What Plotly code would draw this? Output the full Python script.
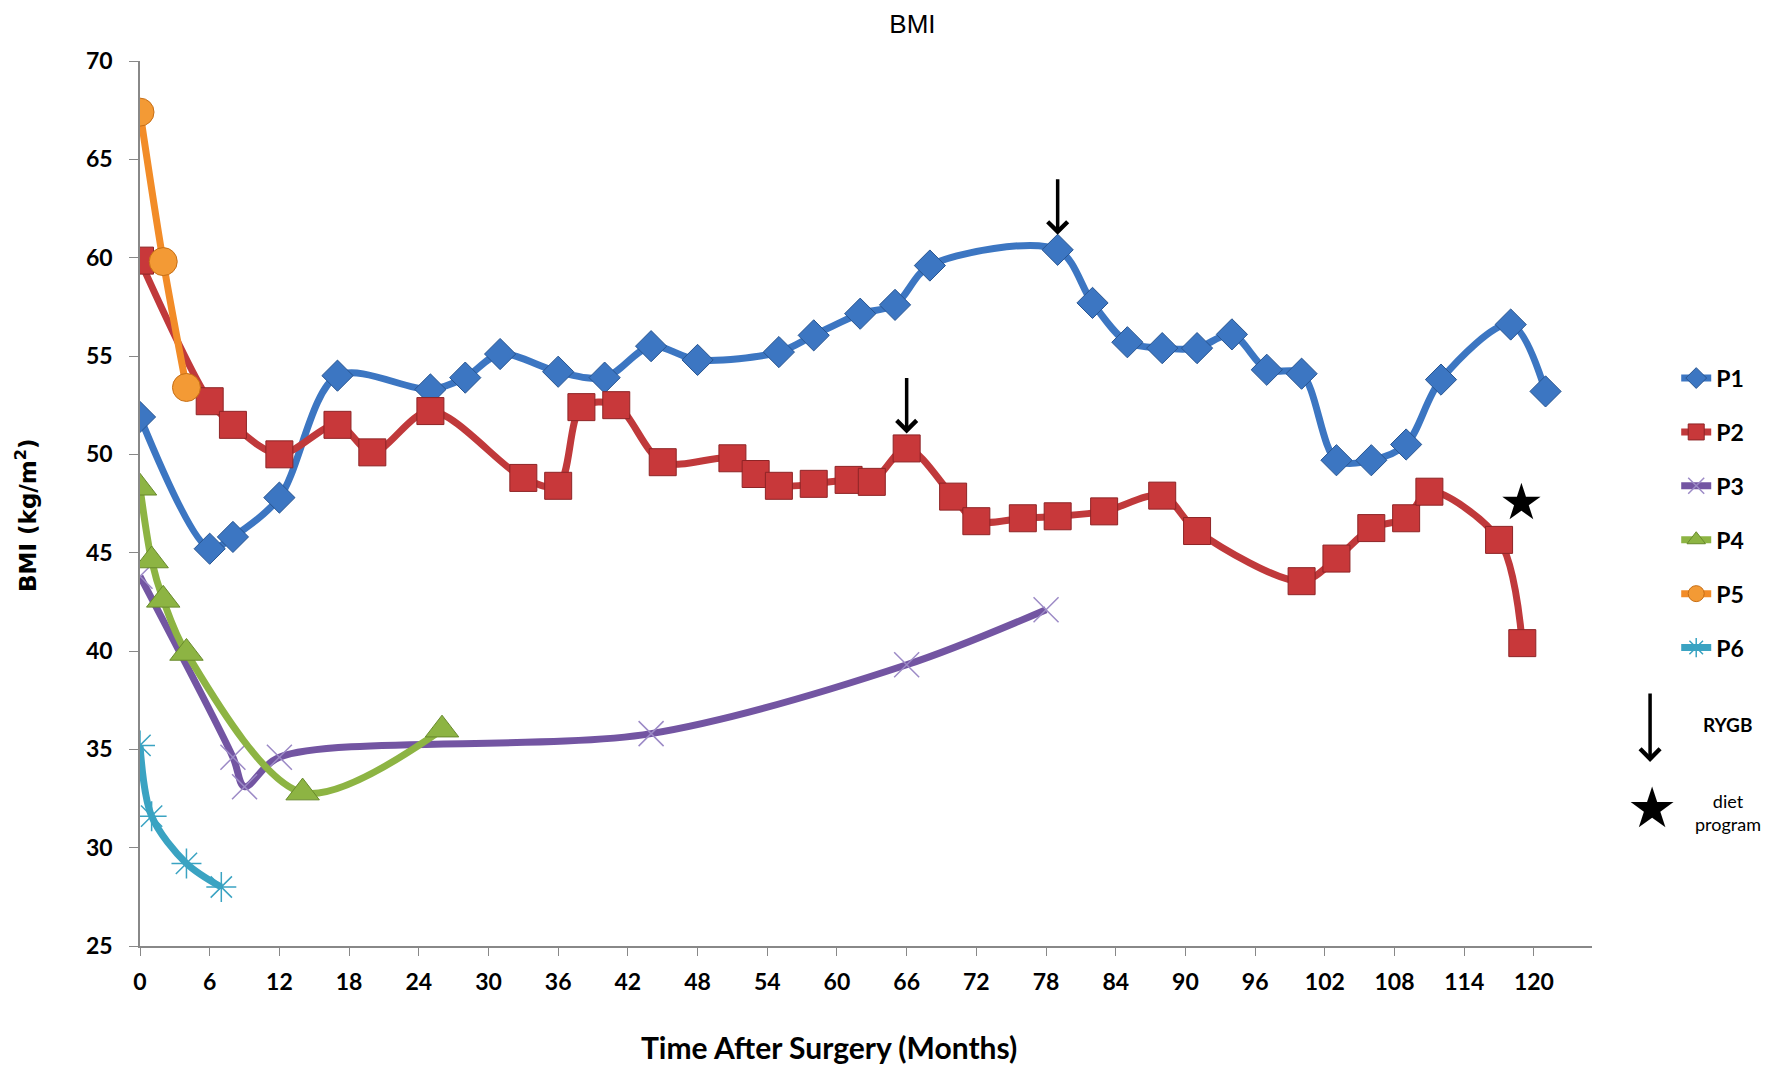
import plotly.graph_objects as go

# BMI over time after surgery
p1_months = [0, 6, 8, 12, 17, 25, 28, 31, 36, 40, 44, 48, 55, 58, 62, 65, 68, 79,
             82, 85, 88, 91, 94, 97, 100, 103, 106, 109, 112, 118, 121]
p1_bmi = [51.9, 45.2, 45.8, 47.8, 54.0, 53.3, 53.9, 55.1, 54.2, 53.9, 55.5, 54.8, 55.2,
          56.05, 57.15, 57.6, 59.6, 60.4, 57.7, 55.7, 55.4, 55.4, 56.1, 54.3, 54.1,
          49.7, 49.7, 50.5, 53.8, 56.6, 53.2]

p2_months = [0, 6, 8, 12, 17, 20, 25, 33, 36, 38, 41, 45, 51, 53, 55, 58, 61, 63, 66,
             70, 72, 76, 79, 83, 88, 91, 100, 103, 106, 109, 111, 117, 119]
p2_bmi = [59.85, 52.7, 51.5, 50.0, 51.5, 50.1, 52.2, 48.8, 48.4, 52.4, 52.5, 49.6, 49.8,
          49.0, 48.4, 48.5, 48.7, 48.6, 50.3, 47.85, 46.6, 46.75, 46.85, 47.1, 47.9,
          46.1, 43.55, 44.7, 46.25, 46.75, 48.1, 45.65, 40.4]

p3_months = [0, 8, 9, 12, 44, 66, 78]
p3_bmi = [43.8, 34.6, 33.1, 34.6, 35.8, 39.3, 42.1]

p4_months = [0, 1, 2, 4, 14, 26]
p4_bmi = [48.3, 44.6, 42.6, 39.9, 32.8, 36.0]

p5_months = [0, 2, 4]
p5_bmi = [67.4, 59.8, 53.4]

p6_months = [0, 1, 4, 7]
p6_bmi = [35.2, 31.6, 29.2, 28.0]

x_ticks = list(range(0, 121, 6))
y_ticks = list(range(25, 71, 5))

# events: RYGB on P1 at 79 months and P2 at 66 months, diet program on P2 at 117
rygb_p1_month = 79
rygb_p2_month = 66
diet_p2_month = 117

TICK_FONT = dict(family="Lato", size=23, color="black", weight="bold")

fig = go.Figure()

series = [
    ("P1", p1_months, p1_bmi, "#3C76C2", dict(symbol="diamond", size=24, color="#3C76C2",
                                               line=dict(color="#285591", width=1))),
    ("P2", p2_months, p2_bmi, "#C0393B", dict(symbol="square", size=27, color="#C8383A",
                                               line=dict(color="#8E2426", width=1))),
    ("P3", p3_months, p3_bmi, "#7355A2", dict(symbol="x-thin", size=25,
                                               line=dict(color="#9C8AC6", width=1.5))),
    ("P4", p4_months, p4_bmi, "#8DB443", dict(symbol="triangle-up", size=29, color="#8DB443",
                                               line=dict(color="#688A2C", width=1))),
    ("P5", p5_months, p5_bmi, "#F28C28", dict(symbol="circle", size=28, color="#F39A35",
                                               line=dict(color="#C76E14", width=1))),
    ("P6", p6_months, p6_bmi, "#3AA3C2", dict(symbol="asterisk-open", size=25,
                                               line=dict(color="#7DBCD3", width=1.5))),
]

for name, xs, ys, col, mk in series:
    fig.add_trace(go.Scatter(
        x=xs, y=ys, name=name, mode="lines+markers",
        line=dict(color=col, width=7, shape="spline", smoothing=0.9),
        marker=mk, legendgroup=name,
    ))

annotations = []
# arrows pointing down at the RYGB points
for xs, ys, m in [(p1_months, p1_bmi, rygb_p1_month), (p2_months, p2_bmi, rygb_p2_month)]:
    k = xs.index(m)
    annotations.append(dict(x=xs[k], y=ys[k], xref="x", yref="y", text="", showarrow=True,
                            ax=0, ay=-72, standoff=15, arrowhead=4, arrowwidth=3.5,
                            arrowsize=1.1, arrowcolor="black"))
# star for the diet program
k = p2_months.index(diet_p2_month)
annotations.append(dict(x=p2_months[k], y=p2_bmi[k], xref="x", yref="y", text="★",
                        showarrow=False, xshift=22, yshift=38,
                        xanchor="center", yanchor="middle",
                        font=dict(family="DejaVu Sans", size=50, color="black")))

# legend keys for the symbols
annotations += [
    dict(x=1.040, y=0.208, xref="paper", yref="paper", text="", showarrow=True, ax=0, ay=-70,
         arrowhead=4, arrowwidth=3.5, arrowsize=1.1, arrowcolor="black"),
    dict(x=1.093, y=0.25, xref="paper", yref="paper", text="<b>RYGB</b>", showarrow=False,
         xanchor="center", yanchor="middle",
         font=dict(family="Lato", size=19, color="black")),
    dict(x=1.041, y=0.157, xref="paper", yref="paper", text="★", showarrow=False,
         xanchor="center", yanchor="middle",
         font=dict(family="DejaVu Sans", size=56, color="black")),
    dict(x=1.094, y=0.151, xref="paper", yref="paper", text="diet<br>program", showarrow=False,
         xanchor="center", yanchor="middle",
         font=dict(family="Lato", size=18, color="black")),
    # axis titles
    dict(x=-0.0785, y=0.486, xref="paper", yref="paper", text="BMI (kg/m<sup>2</sup>)",
         textangle=-90, showarrow=False, xanchor="center", yanchor="middle",
         font=dict(family="DejaVu Sans", size=23, color="black", weight="bold")),
    dict(x=0.4745, y=-0.114, xref="paper", yref="paper", text="Time After Surgery (Months)",
         showarrow=False, xanchor="center", yanchor="middle",
         font=dict(family="Lato", size=30, color="black", weight="bold")),
]

# the page body adds an 8px margin, so the figure is 16px smaller than the window
fig.update_layout(
    width=1756, height=1060,
    margin=dict(l=132, r=172, t=53, b=122),
    plot_bgcolor="white", paper_bgcolor="white",
    title=dict(text="BMI", x=0.532, xref="paper", y=0.985, yref="container",
               xanchor="center", yanchor="middle",
               font=dict(family="Liberation Sans", size=26, color="black")),
    showlegend=True,
    legend=dict(x=1.058, y=0.666, xanchor="left", yanchor="top", tracegroupgap=21,
                font=dict(family="Lato", size=23, color="black", weight="bold"),
                bgcolor="rgba(0,0,0,0)"),
    annotations=annotations,
)

fig.update_xaxes(range=[0, 125], tickvals=x_ticks, ticks="outside", ticklen=8,
                 tickcolor="#888", showline=True, linecolor="#888", linewidth=1.5,
                 showgrid=False, zeroline=False, tickfont=TICK_FONT, ticklabelstandoff=7)
fig.update_yaxes(range=[25, 70], tickvals=y_ticks, ticks="outside", ticklen=9,
                 tickcolor="#888", showline=True, linecolor="#888", linewidth=1.5,
                 showgrid=False, zeroline=False, tickfont=TICK_FONT, ticklabelstandoff=12)

fig.write_html("out.html")
